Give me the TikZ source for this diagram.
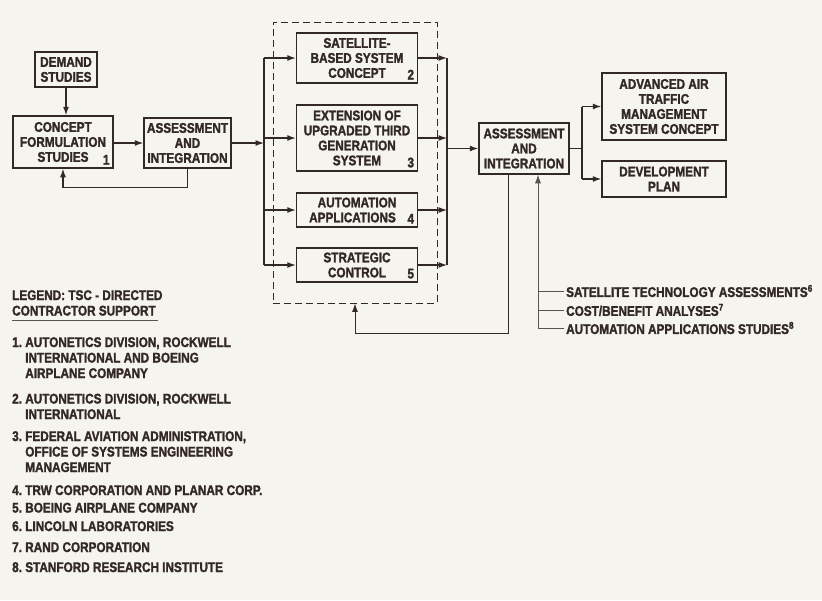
\documentclass[tikz,border=0pt]{standalone}
\usepackage{fontspec}
\setmainfont{Liberation Sans}[FakeStretch=0.84,BoldFont={Liberation Sans Bold},BoldFeatures={FakeBold=1.6}]
\usetikzlibrary{arrows.meta,positioning}
\definecolor{ink}{RGB}{50,40,38}
\definecolor{paper}{RGB}{246,244,239}
\tikzset{
  box/.style={draw=ink,line width=1.5pt,align=center,inner sep=2pt,text=ink,
    font=\bfseries\fontsize{14}{15}\selectfont},
  num/.style={anchor=south east,inner sep=4pt,text=ink,font=\bfseries\fontsize{14}{15}\selectfont},
  arr/.style={draw=ink,line width=1.2pt,-{Latex[length=8.5pt,width=6pt]}},
  link/.style={draw=ink,line width=1.2pt},
  fine/.style={draw=ink!80,line width=0.7pt},
  note/.style={inner sep=2pt,text=ink,font=\bfseries\fontsize{14}{15.5}\selectfont},
}

\begin{document}
\begin{tikzpicture}[x=1pt,y=-1pt]
\fill[paper] (0,0) rectangle (822,600);
\useasboundingbox (0,0) rectangle (822,600);

% first loop
\node[box,minimum width=62,minimum height=35] (demand) at (66,69.5) {DEMAND\\STUDIES};
\node[box,minimum width=100,minimum height=52,label={[num]south east:1}] (concept) at (63,142) {CONCEPT\\FORMULATION\\STUDIES};
\node[box,minimum width=87,minimum height=50] (assessA) at (187.5,143) {ASSESSMENT\\AND\\INTEGRATION};
\draw[arr] (demand.south) -- (demand.south |- concept.north);
\draw[arr] (concept.east |- assessA.west) -- (assessA.west);
\draw[link] (assessA.south) |- ([yshift=-19pt]concept.south);
\draw[arr] ([yshift=-19pt]concept.south) -- (concept.south);

% candidate concepts
\node[draw=ink,line width=0.9pt,dash pattern=on 7pt off 4pt,minimum width=164,minimum height=281] (group) at (355,162.5) {};
\node[box,minimum width=121,minimum height=50,label={[num]south east:2}] (satbox) at (357,58) {SATELLITE-\\BASED SYSTEM\\CONCEPT};
\node[box,minimum width=121,minimum height=66,label={[num]south east:3}] (extbox) at (357,138) {EXTENSION OF\\UPGRADED THIRD\\GENERATION\\SYSTEM};
\node[box,minimum width=121,minimum height=34,label={[num]south east:4}] (autobox) at (357,210) {AUTOMATION\\APPLICATIONS\hspace*{9pt}};
\node[box,minimum width=121,minimum height=34,label={[num]south east:5}] (stratbox) at (357,265) {STRATEGIC\\CONTROL};

\coordinate (lbus) at (264,0);
\coordinate (rbus) at (447,0);
\draw[arr] (assessA.east) -- (assessA.east -| lbus);
\draw[link] (satbox.west -| lbus) -- (stratbox.west -| lbus);
\draw[link] (satbox.east -| rbus) -- (stratbox.east -| rbus);
\foreach \b in {satbox,extbox,autobox,stratbox}{
  \draw[arr] (\b.west -| lbus) -- (\b.west);
  \draw[arr] (\b.east) -- (\b.east -| rbus);
}

% second loop
\node[box,minimum width=90,minimum height=51] (assessB) at (524,148.5) {ASSESSMENT\\AND\\INTEGRATION};
\node[box,minimum width=124,minimum height=67] (advanced) at (664,106.5) {ADVANCED AIR\\TRAFFIC\\MANAGEMENT\\SYSTEM CONCEPT};
\node[box,minimum width=124,minimum height=36] (devplan) at (664,179) {DEVELOPMENT\\PLAN};
\coordinate (fork) at (582,0);
\draw[arr] (assessB.west -| rbus) -- (assessB.west);
\draw[link] (assessB.east) -- (assessB.east -| fork);
\draw[link] (advanced.west -| fork) -- (devplan.west -| fork);
\draw[arr] (advanced.west -| fork) -- (advanced.west);
\draw[arr] (devplan.west -| fork) -- (devplan.west);
\draw[link,line width=0.9pt] ([xshift=-16pt]assessB.south) |- ([yshift=-30pt]group.south);
\draw[arr,line width=0.9pt] ([yshift=-30pt]group.south) -- (group.south);

% supporting studies
\node[note,anchor=west] (sattech) at (564,291) {SATELLITE TECHNOLOGY ASSESSMENTS\textsuperscript{6}};
\node[note,anchor=west] (costben) at (564,310) {COST/BENEFIT ANALYSES\textsuperscript{7}};
\node[note,anchor=west] (autostud) at (564,328) {AUTOMATION APPLICATIONS STUDIES\textsuperscript{8}};
\coordinate (stem) at ([xshift=14pt]assessB.south);
\draw[fine] (sattech.west) -- (sattech.west -| stem);
\draw[fine] (costben.west) -- (costben.west -| stem);
\draw[fine,-{Latex[length=8.5pt,width=6pt]}] (autostud.west) -| (stem);

% legend
\node[note,anchor=base west,align=left] (legtitle) at (10,300) {\begin{tabular}[t]{@{}l@{}}LEGEND: TSC - DIRECTED\\CONTRACTOR SUPPORT\end{tabular}};
\draw[fine,line width=0.9pt] (12,320) -- (158,320);
\node[note,anchor=base west] (leg1) at (10,347) {\begin{tabular}[t]{@{}l@{\ }l@{}}1.&AUTONETICS DIVISION, ROCKWELL\\&INTERNATIONAL AND BOEING\\&AIRPLANE COMPANY\end{tabular}};
\node[note,anchor=base west] (leg2) at (10,403.5) {\begin{tabular}[t]{@{}l@{\ }l@{}}2.&AUTONETICS DIVISION, ROCKWELL\\&INTERNATIONAL\end{tabular}};
\node[note,anchor=base west] (leg3) at (10,441) {\begin{tabular}[t]{@{}l@{\ }l@{}}3.&FEDERAL AVIATION ADMINISTRATION,\\&OFFICE OF SYSTEMS ENGINEERING\\&MANAGEMENT\end{tabular}};
\node[note,anchor=base west] (leg4) at (10,495) {4.\ TRW CORPORATION AND PLANAR CORP.};
\node[note,anchor=base west] (leg5) at (10,512.5) {5.\ BOEING AIRPLANE COMPANY};
\node[note,anchor=base west] (leg6) at (10,531) {6.\ LINCOLN LABORATORIES};
\node[note,anchor=base west] (leg7) at (10,552) {7.\ RAND CORPORATION};
\node[note,anchor=base west] (leg8) at (10,572) {8.\ STANFORD RESEARCH INSTITUTE};
\end{tikzpicture}
\end{document}
